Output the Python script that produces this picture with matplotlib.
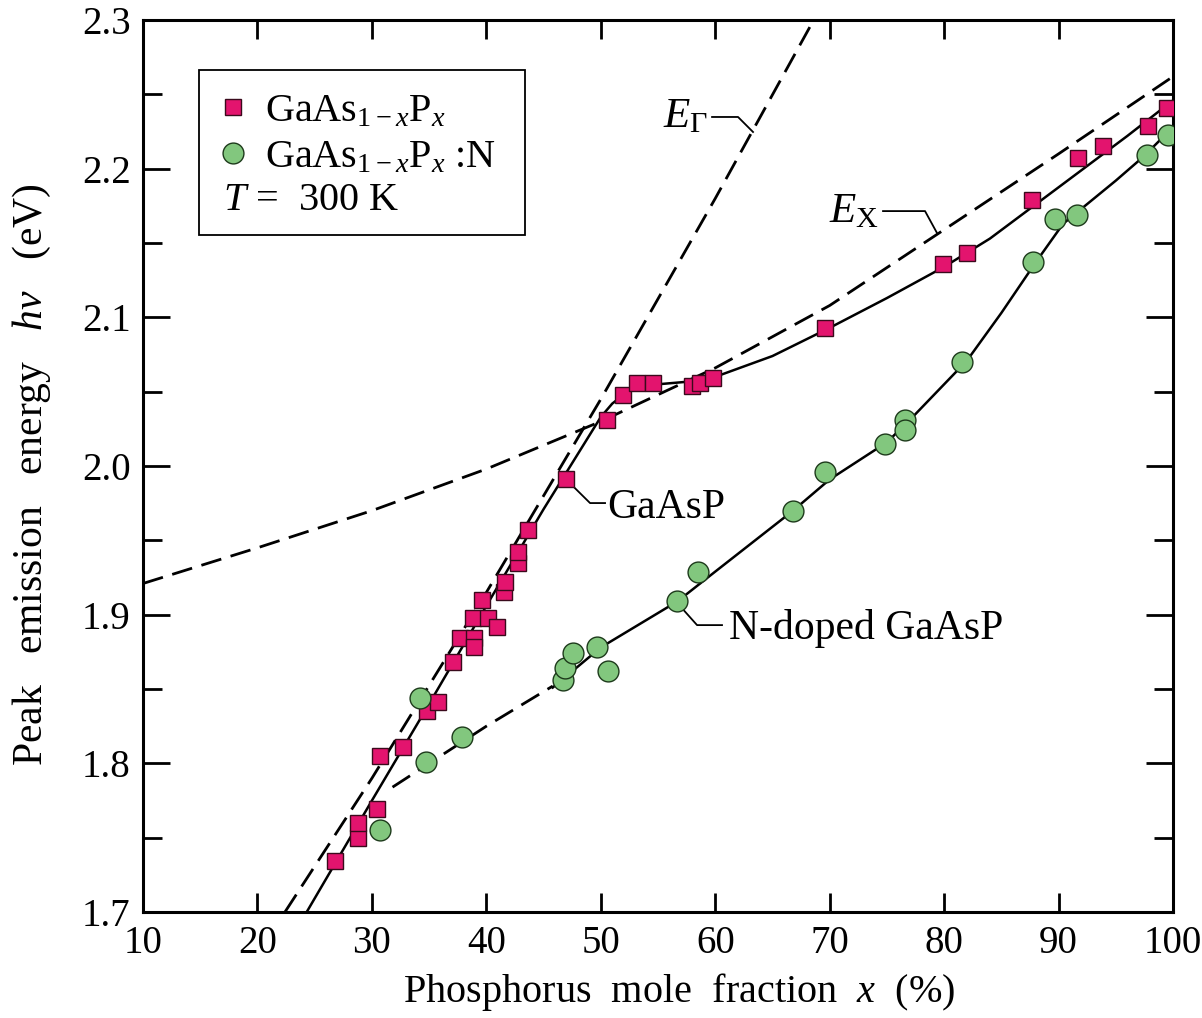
import matplotlib
matplotlib.use("Agg")
import matplotlib.pyplot as plt
from matplotlib.lines import Line2D
from matplotlib.patches import Rectangle

plt.rcParams['font.family'] = ['Liberation Serif', 'DejaVu Serif']
plt.rcParams['mathtext.fontset'] = 'custom'
plt.rcParams['mathtext.rm'] = 'Liberation Serif'
plt.rcParams['mathtext.it'] = 'Liberation Serif:italic'
plt.rcParams['mathtext.bf'] = 'Liberation Serif:bold'

# measured points, GaAsP (squares)
gaasp_x = [26.8, 28.8, 28.8, 30.4, 30.7, 32.7, 34.8, 35.8, 37.1, 37.7, 38.9, 38.9,
           38.8, 39.6, 40.1, 40.9, 41.5, 41.6, 42.8, 42.8, 43.6, 47.0, 50.5, 51.9,
           53.2, 54.6, 58.0, 58.7, 59.8, 69.6, 79.9, 82.0, 87.7, 91.7, 93.9, 97.8, 99.5]
gaasp_y = [1.734, 1.750, 1.760, 1.769, 1.805, 1.811, 1.835, 1.841, 1.868, 1.884, 1.884, 1.878,
           1.898, 1.910, 1.898, 1.892, 1.915, 1.922, 1.935, 1.942, 1.957, 1.991, 2.031, 2.048,
           2.056, 2.056, 2.054, 2.056, 2.059, 2.093, 2.136, 2.143, 2.179, 2.207, 2.215, 2.229, 2.241]

# measured points, N-doped GaAsP (circles)
ndop_x = [30.7, 34.7, 34.2, 37.9, 46.7, 46.9, 47.6, 49.7, 50.6, 56.7, 58.5, 66.8,
          69.6, 74.8, 76.6, 76.6, 81.6, 87.8, 89.7, 91.6, 97.7, 99.6]
ndop_y = [1.755, 1.801, 1.844, 1.818, 1.856, 1.864, 1.874, 1.878, 1.862, 1.909, 1.929, 1.970,
          1.996, 2.015, 2.031, 2.024, 2.070, 2.137, 2.166, 2.169, 2.209, 2.223]

# guide curves
gaasp_fit_x = [24.3, 30, 35, 40, 45, 50, 51, 52, 53, 55, 58, 60, 65, 70, 75, 80, 84, 88, 92, 96, 100]
gaasp_fit_y = [1.700, 1.775, 1.840, 1.906, 1.971, 2.033, 2.042, 2.048, 2.052, 2.055, 2.057, 2.060,
               2.074, 2.093, 2.113, 2.134, 2.153, 2.176, 2.199, 2.222, 2.246]

ndop_dash_x = [31.8, 35, 40, 45.8]
ndop_dash_y = [1.784, 1.800, 1.825, 1.852]
ndop_fit_x = [45.8, 50, 56.7, 60, 66.8, 70, 75, 77, 80, 82, 85, 88, 90.4, 95, 97.4, 100]
ndop_fit_y = [1.851, 1.878, 1.909, 1.929, 1.970, 1.991, 2.016, 2.031, 2.055, 2.071, 2.103, 2.137,
              2.163, 2.192, 2.208, 2.228]

eg_x = [22.4, 30, 40, 50, 60, 68.6]
eg_y = [1.700, 1.790, 1.915, 2.045, 2.180, 2.300]

ex_x = [10, 20, 30, 35, 40, 50, 60, 70, 80, 90, 100]
ex_y = [1.921, 1.945, 1.970, 1.984, 1.998, 2.030, 2.066, 2.108, 2.159, 2.210, 2.262]

sq_color = '#e3146e'
ci_color = '#82c77e'

fig = plt.figure(figsize=(12.02, 10.18), dpi=100)
ax = fig.add_axes([0.119, 0.1041, 0.8569, 0.8762])

dash = (7.5, 3.5)
ax.plot(eg_x, eg_y, color='black', lw=2.0, dashes=dash)
ax.plot(ex_x, ex_y, color='black', lw=2.0, dashes=dash)
ax.plot(gaasp_fit_x, gaasp_fit_y, color='black', lw=1.8)
ax.plot(ndop_dash_x, ndop_dash_y, color='black', lw=2.0, dashes=dash)
ax.plot(ndop_fit_x, ndop_fit_y, color='black', lw=1.8)

ax.plot(gaasp_x, gaasp_y, ls='none', marker='s', ms=12, mfc=sq_color, mec='#3a0a1c', mew=1.0, zorder=5)
ax.plot(ndop_x, ndop_y, ls='none', marker='o', ms=15, mfc=ci_color, mec='#1d3a1b', mew=1.0, zorder=5)

# labels with leader lines
lw_lead = 1.3
ax.plot([59.72, 61.99, 63.3], [2.2348, 2.2348, 2.2247], color='black', lw=lw_lead)
ax.text(59.4, 2.228, r'$E_\Gamma$', fontsize=31, ha='right', va='baseline')
ax.plot([74.66, 78.33, 79.38], [2.1715, 2.1715, 2.1567], color='black', lw=lw_lead)
ax.text(74.3, 2.164, r'$E_\mathrm{X}$', fontsize=31, ha='right', va='baseline')
ax.plot([47.6, 49.06, 50.37], [1.9862, 1.9751, 1.9751], color='black', lw=lw_lead, zorder=4)
ax.text(50.6, 1.972, 'GaAsP', fontsize=30, ha='left', va='center')
ax.plot([56.9, 58.41, 60.59], [1.9060, 1.893, 1.893], color='black', lw=lw_lead, zorder=4)
ax.text(61.2, 1.891, 'N-doped GaAsP', fontsize=30, ha='left', va='center')

# legend
handles = [
    Line2D([], [], ls='none', marker='s', ms=12, mfc=sq_color, mec='#3a0a1c', mew=1.0),
    Line2D([], [], ls='none', marker='o', ms=15, mfc=ci_color, mec='#1d3a1b', mew=1.0),
]
labels = [r'GaAs$_{1-x}$P$_x$', r'GaAs$_{1-x}$P$_x$ :N']
ax.legend(handles, labels, loc='upper left', bbox_to_anchor=(0.0738, 0.918),
          frameon=False, fontsize=29, handlelength=0.7, handletextpad=0.45,
          borderpad=0, borderaxespad=0, labelspacing=0.22)
ax.text(0.0777, 0.798, r'$T$ =  300 K', transform=ax.transAxes, fontsize=29, ha='left', va='center')
ax.add_patch(Rectangle((0.0544, 0.759), 0.3165, 0.185, transform=ax.transAxes,
                       fill=False, ec='black', lw=1.3, zorder=6))

ax.set_xlim(10, 100)
ax.set_ylim(1.7, 2.3)
ax.set_xticks(range(10, 101, 10))
ax.set_yticks([1.7, 1.8, 1.9, 2.0, 2.1, 2.2, 2.3])
ax.set_yticks([1.75, 1.85, 1.95, 2.05, 2.15, 2.25], minor=True)
ax.set_yticklabels(['1.7', '1.8', '1.9', '2.0', '2.1', '2.2', '2.3'])

ax.tick_params(axis='both', which='both', direction='in', top=True, right=True,
               labelsize=28, width=2.0)
ax.tick_params(axis='x', which='major', length=14, pad=9)
ax.tick_params(axis='y', which='major', length=19.5, pad=9)
ax.tick_params(axis='y', which='minor', length=13.5)
for s in ax.spines.values():
    s.set_linewidth(2.2)

ax.set_xlabel(r'Phosphorus  mole  fraction  $x$  (%)', fontsize=29)
ax.set_ylabel(r'Peak   emission   energy   $h\nu$   (eV)', fontsize=30)
ax.xaxis.set_label_coords(0.521, -0.066)
ax.yaxis.set_label_coords(-0.087, 0.49)

fig.savefig('out.png', dpi=100)
